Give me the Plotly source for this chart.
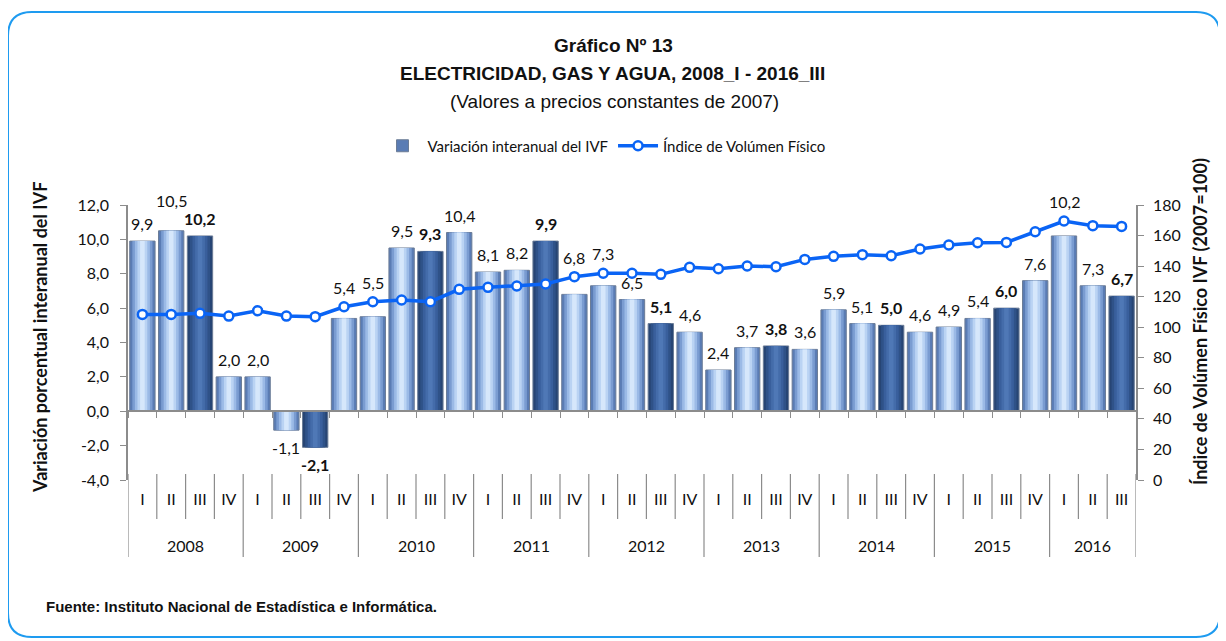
import plotly.graph_objects as go

# ---------------- data ----------------
years = ["2008", "2009", "2010", "2011", "2012", "2013", "2014", "2015", "2016"]
quarters = ["I", "II", "III", "IV"]
quarters_per_year = [4, 4, 4, 4, 4, 4, 4, 4, 3]

variacion_ivf = [9.9, 10.5, 10.2, 2.0,
                 2.0, -1.1, -2.1, 5.4,
                 5.5, 9.5, 9.3, 10.4,
                 8.1, 8.2, 9.9, 6.8,
                 7.3, 6.5, 5.1, 4.6,
                 2.4, 3.7, 3.8, 3.6,
                 5.9, 5.1, 5.0, 4.6,
                 4.9, 5.4, 6.0, 7.6,
                 10.2, 7.3, 6.7]

indice_ivf = [108.4, 108.4, 109.1, 107.3,
              110.8, 107.3, 106.9, 113.4,
              116.7, 117.8, 116.7, 124.8,
              126.1, 127.0, 128.3, 133.1,
              135.3, 135.3, 134.6, 139.2,
              138.3, 140.1, 139.6, 144.4,
              146.4, 147.5, 146.8, 151.2,
              153.8, 155.3, 155.5, 162.5,
              169.5, 166.5, 166.0]

left_range = [-4, 12]
left_step = 2
right_range = [0, 180]
right_step = 20

# ---------------- derived ----------------
cats, qlabels = [], []
for yr, n in zip(years, quarters_per_year):
    for q in quarters[:n]:
        cats.append(f"{yr}-{q}")
        qlabels.append(q)
highlight = [q == "III" for q in qlabels]

# page offset (body margin) and figure geometry in screen pixels
OX = OY = 8
W, H = 1226 - OX, 641 - OY
PL, PR, PT, PB = 128, 1136, 205, 480          # plot area in screen px
ML, MR, MT, MB = PL - OX, W + OX - PR, PT - OY, H + OY - PB
PW, PH = PR - PL, PB - PT


def px(xs):
    return (xs - PL) / PW


def py(ys):
    return (PB - ys) / PH


FONT_C = "Lato, 'Open Sans', sans-serif"
FONT_A = "'Liberation Sans', Arial, sans-serif"
GRAY = "#8C8C8C"
LINE_BLUE = "#0A64F5"
TXT = "#111111"

fig = go.Figure()

# gradient-like bars: overlays from edge to centre
light_layers = ["#5A7CB4", "#7A9CD1", "#9BBAE6", "#BAD3F3", "#D6E7FB"]
dark_layers = ["#274574", "#2F5288", "#395F9C", "#446CAA", "#4F78B6"]
widths = [0.88, 0.70, 0.52, 0.34, 0.16]
for k, w in enumerate(widths):
    colors = [dark_layers[k] if h else light_layers[k] for h in highlight]
    fig.add_trace(go.Bar(
        x=cats, y=variacion_ivf, width=w,
        marker=dict(color=colors,
                    line=dict(color="#6B7C96" if k == 0 else "rgba(0,0,0,0)", width=1 if k == 0 else 0)),
        name="Variación interanual del IVF",
        showlegend=(k == 0), hoverinfo="x+y" if k == 0 else "skip",
        xaxis="x", yaxis="y",
    ))

fig.add_trace(go.Scatter(
    x=cats, y=indice_ivf, mode="lines+markers",
    name="Índice de Volúmen Físico",
    line=dict(color=LINE_BLUE, width=3.5),
    marker=dict(symbol="circle", size=9, color="white", line=dict(color=LINE_BLUE, width=2.5)),
    xaxis="x2", yaxis="y2",
))

# ---------------- data labels ----------------
annotations = []
span_l = left_range[1] - left_range[0]
span_r = right_range[1] - right_range[0]
unit_px = PH / span_l
cat_px = PW / len(cats)
label_specs = []
for i, (v, iv, h) in enumerate(zip(variacion_ivf, indice_ivf, highlight)):
    txt = f"{v:.1f}".replace(".", ",")
    marker_on_left = left_range[0] + (iv - right_range[0]) / span_r * span_l
    if v >= 0:
        if 0 < marker_on_left - v < 1.3:
            yv, shift = marker_on_left, 8
        else:
            yv, shift = v, 6
        anchor = "bottom"
    else:
        yv, shift, anchor = v, -6, "top"
    label_specs.append([i, yv, shift, anchor, txt, h])

# simple collision avoidance between adjacent labels
for a, b in zip(label_specs[:-1], label_specs[1:]):
    wa = len(a[4]) * 4.0 + (1.5 if a[5] else 0)
    wb = len(b[4]) * 4.0 + (1.5 if b[5] else 0)
    if a[3] == b[3] == "bottom" and wa + wb > cat_px:
        ya = a[1] * unit_px + a[2]
        yb = b[1] * unit_px + b[2]
        if abs(ya - yb) < 18:
            a[2] += 18 - (ya - yb)

for i, yv, shift, anchor, txt, h in label_specs:
    annotations.append(dict(x=i, y=yv, xref="x", yref="y", text=f"<b>{txt}</b>" if h else txt,
                            showarrow=False, yanchor=anchor, yshift=shift,
                            font=dict(family=FONT_C, size=16, color=TXT)))

# year labels and separators
shapes = []
start = 0
boundaries_year = [0]
for yr, n in zip(years, quarters_per_year):
    annotations.append(dict(x=start + (n - 1) / 2, y=py(545), xref="x", yref="paper", text=yr,
                            yanchor="middle", showarrow=False,
                            font=dict(family=FONT_C, size=16, color=TXT)))
    start += n
    boundaries_year.append(start)
for b in range(len(cats) + 1):
    y1 = py(557) if b in boundaries_year else py(519)
    shapes.append(dict(type="line", xref="x", yref="paper", x0=b - 0.5, x1=b - 0.5,
                       y0=py(474), y1=y1, line=dict(color=GRAY, width=1.2)))

# titles
annotations += [
    dict(x=px(613), y=py(45), xref="paper", yref="paper", yanchor="middle",
         text="<b>Gráfico Nº 13</b>", showarrow=False,
         font=dict(family=FONT_A, size=19, color=TXT)),
    dict(x=px(612), y=py(73), xref="paper", yref="paper", yanchor="middle",
         text="<b>ELECTRICIDAD, GAS Y AGUA, 2008_I - 2016_III</b>", showarrow=False,
         font=dict(family=FONT_A, size=19, color=TXT)),
    dict(x=px(614), y=py(101), xref="paper", yref="paper", yanchor="middle",
         text="(Valores a precios constantes de 2007)", showarrow=False,
         font=dict(family=FONT_A, size=19, color=TXT)),
    dict(x=px(27), y=py(338), xref="paper", yref="paper", textangle=-90, yanchor="middle",
         text="<b>Variación porcentual interanual del IVF</b>", showarrow=False,
         font=dict(family=FONT_C, size=18, color=TXT)),
    dict(x=px(1213), y=py(322), xref="paper", yref="paper", textangle=-90, yanchor="middle",
         text="<b>Índice de Volúmen Físico IVF (2007=100)</b>", showarrow=False,
         font=dict(family=FONT_C, size=18, color=TXT)),
    dict(x=px(44), y=py(606), xref="paper", yref="paper", xanchor="left", yanchor="middle",
         text="<b>Fuente: Instituto Nacional de Estadística e Informática.</b>", showarrow=False,
         font=dict(family=FONT_A, size=15, color=TXT)),
]

# rounded outer border
x0, x1, y0, y1, r = 8, 1220, 12, 637, 24
pts = lambda a, b: f"{px(a):.5f},{py(b):.5f}"
path = (f"M {pts(x0 + r, y0)} L {pts(x1 - r, y0)} Q {pts(x1, y0)} {pts(x1, y0 + r)} "
        f"L {pts(x1, y1 - r)} Q {pts(x1, y1)} {pts(x1 - r, y1)} L {pts(x0 + r, y1)} "
        f"Q {pts(x0, y1)} {pts(x0, y1 - r)} L {pts(x0, y0 + r)} Q {pts(x0, y0)} {pts(x0 + r, y0)} Z")
shapes.append(dict(type="path", xref="paper", yref="paper", path=path,
                   line=dict(color="#1E9BF0", width=2), layer="below"))

zero_pos = (0 - left_range[0]) / span_l
left_ticks = list(range(left_range[0], left_range[1] + 1, left_step))
left_text = [f"{t:.1f}".replace(".", ",") for t in left_ticks]
right_ticks = list(range(right_range[0], right_range[1] + 1, right_step))

fig.update_layout(
    width=W, height=H,
    margin=dict(l=ML, r=MR, t=MT, b=MB, autoexpand=False),
    paper_bgcolor="white", plot_bgcolor="white",
    barmode="overlay",
    showlegend=True,
    legend=dict(orientation="h", x=px(604), xanchor="center", y=py(146), yanchor="middle",
                font=dict(family=FONT_C, size=15, color=TXT), bgcolor="rgba(0,0,0,0)",
                itemwidth=40),
    xaxis=dict(type="category", categoryorder="array", categoryarray=cats,
               tickmode="array", tickvals=cats, ticktext=qlabels, ticks="", showline=False,
               showgrid=False, ticklabelstandoff=8,
               tickfont=dict(family=FONT_C, size=16, color=TXT), range=[-0.5, len(cats) - 0.5]),
    xaxis2=dict(type="category", categoryorder="array", categoryarray=cats,
                overlaying="x", anchor="free", position=zero_pos, showticklabels=False,
                ticks="outside", tickson="boundaries", ticklen=6, tickcolor=GRAY, tickwidth=1.2,
                showline=True, linecolor=GRAY, linewidth=1.5, showgrid=False,
                range=[-0.5, len(cats) - 0.5]),
    yaxis=dict(range=left_range, tickmode="array", tickvals=left_ticks, ticktext=left_text,
               showline=True, linecolor=GRAY, linewidth=1.5, ticks="outside", ticklen=6,
               tickcolor=GRAY, tickwidth=1.2, showgrid=False, zeroline=False,
               ticklabelstandoff=8, tickfont=dict(family=FONT_C, size=16, color=TXT)),
    yaxis2=dict(range=right_range, overlaying="y", side="right", anchor="x", tickmode="array",
                tickvals=right_ticks, ticktext=[str(t) for t in right_ticks],
                showline=True, linecolor=GRAY, linewidth=1.5,
                ticks="outside", ticklen=6, tickcolor=GRAY, tickwidth=1.2, showgrid=False,
                zeroline=False, ticklabelstandoff=6,
                tickfont=dict(family=FONT_C, size=16, color=TXT)),
    yaxis3=dict(range=left_range, overlaying="y", side="left", anchor="x", tickmode="array",
                tickvals=left_ticks, showticklabels=False, ticks="inside", ticklen=6,
                tickcolor=GRAY, tickwidth=1.2, showline=False, showgrid=False, zeroline=False),
    yaxis4=dict(range=right_range, overlaying="y", side="right", anchor="x", tickmode="array",
                tickvals=right_ticks, showticklabels=False, ticks="inside", ticklen=6,
                tickcolor=GRAY, tickwidth=1.2, showline=False, showgrid=False, zeroline=False),
    annotations=annotations,
    shapes=shapes,
)

fig.write_html("out.html")
